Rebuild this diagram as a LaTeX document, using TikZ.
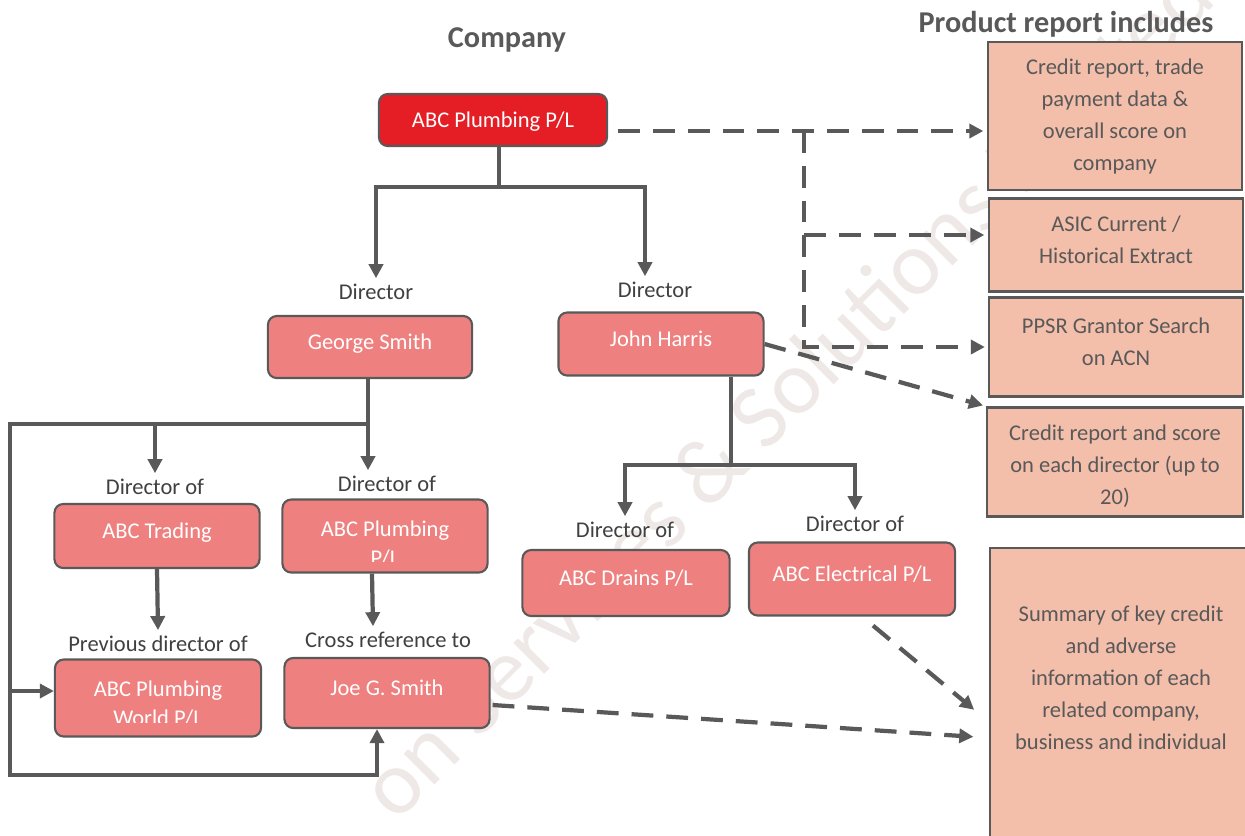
\documentclass[tikz,border=0pt]{standalone}
\usepackage{fontspec}
\setmainfont{Carlito}
\usepackage{tikz}
\definecolor{linegrey}{RGB}{89, 89, 89}
\definecolor{labelgrey}{RGB}{64, 64, 64}
\definecolor{topred}{RGB}{228, 30, 36}
\definecolor{salmon}{RGB}{239, 128, 128}
\definecolor{peach}{RGB}{243, 190, 170}
\definecolor{watermark}{RGB}{238, 233, 230}
\usetikzlibrary{arrows.meta}
\usetikzlibrary{calc}

\begin{document}
\begin{tikzpicture}[x=0.01cm, y=-0.01cm, >={Triangle[length=4pt,width=4pt]},
    every node/.style={font=\fontsize{6.4}{9.1}\selectfont},
    title/.style={text=linegrey, font=\bfseries\fontsize{8.6}{10}\selectfont},
    lbl/.style={text=labelgrey, inner sep=1.5pt},
    person/.style={draw=linegrey, line width=0.6pt, fill=salmon, rounded corners=2.5pt, text=white, text height=5pt, text depth=3.8pt},
    report/.style={draw=linegrey, line width=0.6pt, fill=peach, text=linegrey, align=center},
    conn/.style={->, draw=linegrey, line width=1.2pt},
    dconn/.style={->, draw=linegrey, line width=1.2pt, dash pattern=on 6.2pt off 3.7pt, shorten >=1pt}]
    \useasboundingbox (0,0) rectangle (1245,835);

    % watermark behind everything
    \begin{scope}
        \clip (0,0) rectangle (1245,835);
        \node[rotate=45, text=watermark, font=\fontsize{26}{26}\selectfont] (wmark) at (785,390) {on Services \& Solutions Limited};
    \end{scope}

    \node[title] (company) at (507,40) {Company};
    \node[title] (product) at (1066,24) {Product report includes};

    % company and directors
    \node[person, fill=topred, text height=6pt, text depth=2pt, minimum width=2.28cm, minimum height=0.52cm] (top) at (493,120) {ABC Plumbing P/L};
    \node[lbl] (lblg) at (376,292) {Director};
    \node[person, minimum width=2.04cm, minimum height=0.62cm] (george) at (370,347) {George Smith};
    \node[lbl] (lblj) at (655,290) {Director};
    \node[person, minimum width=2.05cm, minimum height=0.63cm] (john) at (661,344) {John Harris};

    % related companies
    \node[lbl] (lbltr) at (155,487) {Director of};
    \node[person, minimum width=2.05cm, minimum height=0.64cm] (trading) at (157,536) {ABC Trading};
    \node[lbl] (lblpp) at (387,484) {Director of};
    \node[person, minimum width=2.05cm, minimum height=0.73cm] (pp) at (385,536) {};
    \begin{scope}
        \clip (283,500) rectangle (488,561);
        \node[text=white, align=center, font=\fontsize{6.4}{8.2}\selectfont] (pptext) at (385,544) {ABC Plumbing\\P/L};
    \end{scope}
    \node[lbl] (lblprev) at (158,644) {Previous director of};
    \node[person, minimum width=2.06cm, minimum height=0.77cm] (world) at (158,698) {};
    \begin{scope}
        \clip (55,660) rectangle (261,722);
        \node[text=white, align=center, font=\fontsize{6.4}{8.2}\selectfont] (worldtext) at (158,704) {ABC Plumbing\\World P/L};
    \end{scope}
    \node[lbl] (lblcross) at (388,640) {Cross reference to};
    \node[person, minimum width=2.05cm, minimum height=0.70cm] (joe) at (387,693) {Joe G. Smith};
    \node[lbl] (lbldr) at (625,530) {Director of};
    \node[person, minimum width=2.07cm, minimum height=0.66cm] (drains) at (626,583) {ABC Drains P/L};
    \node[lbl] (lblel) at (855,524) {Director of};
    \node[person, minimum width=2.06cm, minimum height=0.73cm] (elec) at (852,579) {ABC Electrical P/L};

    % report contents
    \node[report, minimum width=2.54cm, minimum height=1.48cm] (crep) at (1115,116) {Credit report, trade\\payment data \&\\overall score on\\company};
    \node[report, minimum width=2.54cm, minimum height=0.93cm] (asic) at (1116,245) {};
    \node[text=linegrey, align=center] (asictext) at (1116,240) {ASIC Current /\\Historical Extract};
    \node[report, minimum width=2.53cm, minimum height=0.99cm] (ppsr) at (1116,347) {};
    \node[text=linegrey, align=center] (ppsrtext) at (1116,342) {PPSR Grantor Search\\on ACN};
    \node[report, minimum width=2.55cm, minimum height=1.09cm] (cdir) at (1115,462) {};
    \node[text=linegrey, align=center] (cdirtext) at (1115,466) {Credit report and score\\on each director (up to\\20)};
    \node[report, minimum width=2.60cm, minimum height=2.96cm] (summ) at (1120,696) {};
    \node[text=linegrey, align=center] (summtext) at (1121,678) {Summary of key credit\\and adverse\\information of each\\related company,\\business and individual};

    \coordinate (gsplit) at (368,424);
    \coordinate (looptl) at (10,424);
    \coordinate (loopbl) at (10,775);
    \coordinate (loopw) at (10,691);
    \coordinate (jsplit) at (731,465);
    \coordinate (tsplit) at (804,131);

    \draw[conn] ($(top.south)+(6,0)$) -- ++(0,40) -| (lblg.north);
    \draw[conn] ($(top.south)+(6,0)$) -- ++(0,40) -| ($(lblj.north)+(-10,0)$);
    \draw[conn, -] (george.south -| gsplit) -- (gsplit);
    \draw[conn] (gsplit) -- (gsplit |- lblpp.north);
    \draw[conn] (gsplit) -| (lbltr.north);
    \draw[conn] (gsplit) -- (looptl) -- (loopbl) -| ($(joe.south)+(-10,0)$);
    \draw[conn] (loopw) -- (loopw -| world.west);
    \draw[conn] (trading.south) -- (lblprev.north);
    \draw[conn] ($(pp.south)+(-13,0)$) -- ($(lblcross.north)+(-15,0)$);
    \draw[conn, -] (john.south -| jsplit) -- (jsplit);
    \draw[conn] (jsplit) -| (lbldr.north);
    \draw[conn] (jsplit) -| (lblel.north);

    \draw[dconn] ($(top.east)+(10,11)$) -- (tsplit) -- (tsplit -| crep.west);
    \draw[dconn] (tsplit) |- ($(asic.west)+(0,-10)$);
    \draw[dconn] (tsplit) |- (ppsr.west);
    \draw[dconn] (john.east) -- (cdir.north west);
    \draw[dconn] ($(elec.south)+(21,9)$) -- ($(summ.west)+(-12,16)$);
    \draw[dconn] ($(joe.east)+(2,12)$) -- ($(summ.west)+(-12,41)$);
\end{tikzpicture}
\end{document}
